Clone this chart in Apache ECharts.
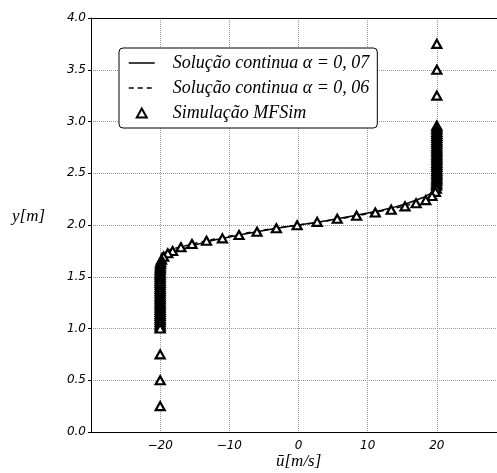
<!DOCTYPE html>
<html><head><meta charset="utf-8">
<script src="https://cdn.jsdelivr.net/npm/echarts@6/dist/echarts.min.js"></script>
<style>html,body{margin:0;padding:0;background:#fff}#c{width:497px;height:473px}</style>
</head><body><div id="c"></div>
<script>
// ---- data ----
const xTicks = [-20, -10, 0, 10, 20];
const yTicks = [0.0, 0.5, 1.0, 1.5, 2.0, 2.5, 3.0, 3.5, 4.0];

// continuous solution alpha = 0.07
const solidU = [-20, -20, -19.7, -19, -18, -16, -14, -12, -10, -8, -6, -4, -2, 0, 2, 4, 6, 8, 10, 12, 14, 16, 18, 19, 19.7, 20, 20];
const solidY = [1.0, 1.60, 1.665, 1.70, 1.735, 1.785, 1.825, 1.857, 1.885, 1.91, 1.935, 1.958, 1.98, 2.0, 2.02, 2.042, 2.065, 2.09, 2.115, 2.143, 2.175, 2.215, 2.265, 2.30, 2.335, 2.40, 3.0];

// continuous solution alpha = 0.06
const dashU = [-20, -20, -19.8, -19, -18, -16, -14, -12, -10, -8, -6, -4, -2, 0, 2, 4, 6, 8, 10, 12, 14, 16, 18, 19, 19.8, 20, 20];
const dashY = [1.0, 1.67, 1.725, 1.755, 1.772, 1.805, 1.837, 1.866, 1.892, 1.917, 1.94, 1.962, 1.982, 2.0, 2.018, 2.038, 2.06, 2.083, 2.108, 2.134, 2.163, 2.195, 2.228, 2.245, 2.275, 2.33, 3.0];

// MFSim simulation (listed from the top cell downwards)
const simU = [
  20, 20, 20,
  20, 20, 20, 20, 20, 20, 20, 20, 20, 20, 20, 20, 20, 20,
  20, 20, 20, 20, 20, 20, 20, 20, 20, 20, 20, 20, 20, 19.98, 19.97, 19.96,
  19.92, 19.8, 19.3, 18.4, 17.0, 15.4, 13.4, 11.1, 8.4, 5.6, 2.7,
  -0.2, -3.2, -6.0, -8.6, -11.0, -13.3, -15.4, -17.0, -18.2, -18.9, -19.5, -19.8, -19.92,
  -19.96, -19.97, -19.98, -20, -20, -20, -20, -20, -20, -20, -20, -20, -20, -20, -20, -20,
  -20, -20, -20, -20, -20, -20, -20, -20, -20, -20, -20, -20, -20, -20, -20, -20, -20, -20,
  -20, -20, -20
];
const simY = [
  3.75, 3.50, 3.25,
  2.96, 2.94, 2.92, 2.90, 2.88, 2.86, 2.84, 2.82, 2.80, 2.78, 2.76, 2.74, 2.72, 2.70,
  2.68, 2.66, 2.64, 2.62, 2.60, 2.58, 2.56, 2.54, 2.52, 2.50, 2.48, 2.46, 2.44, 2.42, 2.40, 2.38,
  2.35, 2.32, 2.28, 2.24, 2.21, 2.18, 2.148, 2.12, 2.09, 2.06, 2.03,
  1.998, 1.968, 1.935, 1.903, 1.871, 1.848, 1.816, 1.785, 1.749, 1.727, 1.694, 1.665, 1.64,
  1.62, 1.60, 1.58, 1.56, 1.54, 1.52, 1.50, 1.48, 1.46, 1.44, 1.42, 1.40, 1.38,
  1.36, 1.34, 1.32, 1.30, 1.28, 1.26, 1.24, 1.22, 1.20, 1.18, 1.16, 1.14, 1.12, 1.10, 1.08, 1.06, 1.04, 1.02,
  1.00, 0.75, 0.50, 0.25
];

const names = ['Solução continua α = 0, 07', 'Solução continua α = 0, 06', 'Simulação MFSim'];
const zip = (a, b) => a.map((v, i) => [v, b[i]]);

const chart = echarts.init(document.getElementById('c'), null, {renderer: 'canvas'});
const tickFont = {fontFamily: 'DejaVu Sans', fontStyle: 'italic', fontSize: 12, color: '#000'};
const serif = 'Liberation Serif';
const hidden = {color: 'rgba(0,0,0,0)', borderColor: 'rgba(0,0,0,0)', borderWidth: 0};
const spine = {show: true, onZero: false, lineStyle: {color: '#000', width: 1}};

chart.setOption({
  animation: false,
  backgroundColor: '#fff',
  grid: {left: 91, top: 18, width: 415, height: 414, containLabel: false, outerBoundsMode: 'none', show: false},
  xAxis: [{
    type: 'value', min: -30, max: 30, interval: 10,
    axisLine: spine,
    axisTick: {show: false},
    splitLine: {show: true, lineStyle: {color: '#999', type: 'dotted', width: 1}},
    axisLabel: Object.assign({margin: 8, showMinLabel: false, showMaxLabel: false,
      formatter: v => xTicks.includes(v) ? String(v).replace('-', '\u2212') : ''}, tickFont)
  }, {
    type: 'value', position: 'top', min: -30, max: 30, interval: 10,
    axisLine: spine, axisTick: {show: false}, axisLabel: {show: false}, splitLine: {show: false}
  }],
  yAxis: {
    type: 'value', min: 0, max: 4, interval: 0.5,
    axisLine: spine,
    axisTick: {show: true, inside: false, length: 3, lineStyle: {color: '#000'}},
    splitLine: {show: true, lineStyle: {color: '#999', type: 'dotted', width: 1}},
    axisLabel: Object.assign({margin: 5, formatter: v => yTicks.includes(v) ? v.toFixed(1) : ''}, tickFont)
  },
  legend: {
    orient: 'vertical', left: 119, top: 48,
    padding: [6, 8, 6, 9],
    backgroundColor: '#fff', borderColor: '#000', borderWidth: 1, borderRadius: 4,
    itemWidth: 26, itemHeight: 9, itemGap: 7,
    data: [
      {name: names[0], itemStyle: hidden, lineStyle: {color: '#000', width: 1.5, type: 'solid'}},
      {name: names[1], itemStyle: hidden, lineStyle: {color: '#000', width: 1.5, type: [5, 4]}},
      {name: names[2], icon: 'path://M5,0L10,9L0,9Z', itemStyle: {color: '#fff', borderColor: '#000', borderWidth: 2}}
    ],
    textStyle: {fontFamily: serif, fontStyle: 'italic', fontSize: 18, color: '#000', padding: [0, 0, 0, 13], lineHeight: 18}
  },
  series: [
    {name: names[0], type: 'line', data: zip(solidU, solidY), showSymbol: false, symbol: 'none',
     lineStyle: {color: '#000', width: 1.5, type: 'solid'}, itemStyle: {color: '#000'}, z: 3},
    {name: names[1], type: 'line', data: zip(dashU, dashY), showSymbol: false, symbol: 'none',
     lineStyle: {color: '#000', width: 1.5, type: [5, 4]}, itemStyle: {color: '#000'}, z: 3},
    {name: names[2], type: 'scatter', data: zip(simU, simY), symbol: 'triangle', symbolSize: [9, 8],
     itemStyle: {color: '#fff', borderColor: '#000', borderWidth: 2.2, opacity: 1}, z: 4}
  ],
  graphic: [
    {type: 'text', left: 12, top: 208, style: {text: 'y[m]', font: 'italic 17px "Liberation Serif"', fill: '#000'}},
    {type: 'text', left: 276, top: 453, style: {text: '\u016B[m/s]', font: 'italic 17px "Liberation Serif"', fill: '#000'}}
  ]
});
</script></body></html>
